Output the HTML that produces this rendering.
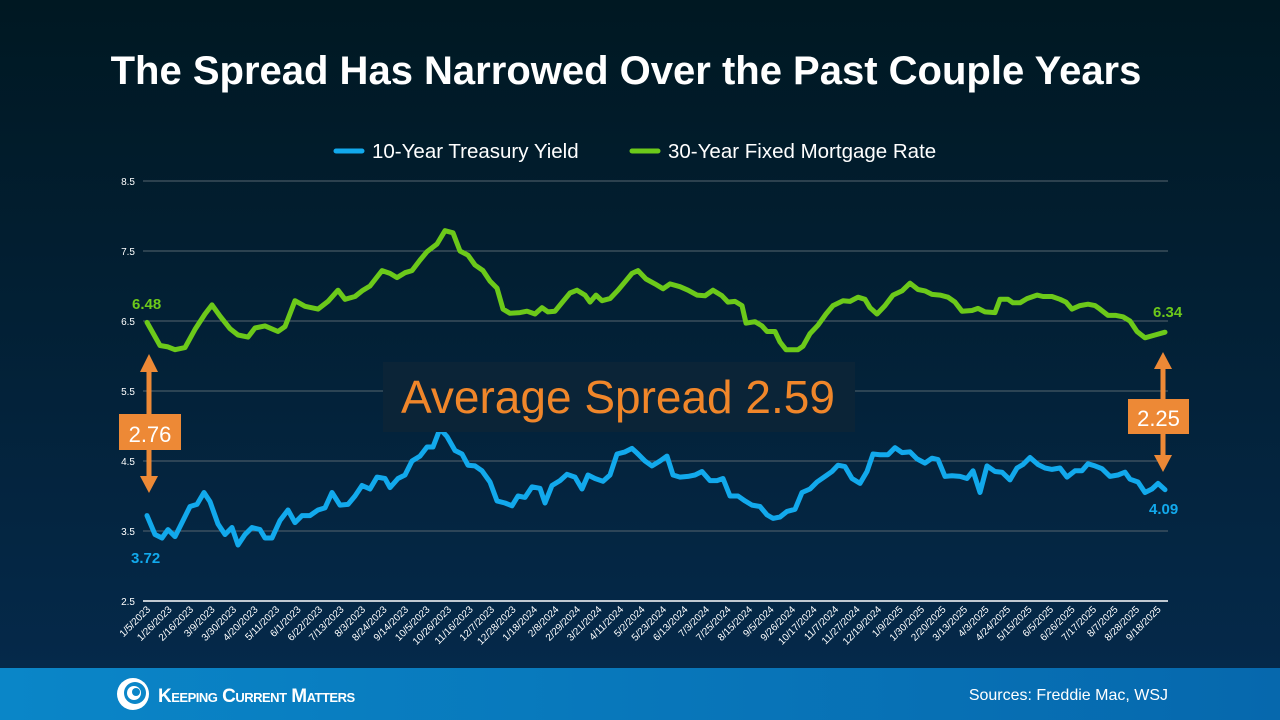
<!DOCTYPE html>
<html><head><meta charset="utf-8"><style>
html,body{margin:0;padding:0;width:1280px;height:720px;overflow:hidden;}
body{font-family:"Liberation Sans",sans-serif;}
</style></head><body>
<svg width="1280" height="720" viewBox="0 0 1280 720" xmlns="http://www.w3.org/2000/svg" font-family="Liberation Sans, sans-serif">
<defs>
<linearGradient id="bg" x1="0" y1="0" x2="0" y2="1">
<stop offset="0" stop-color="#001822"/><stop offset="1" stop-color="#05294a"/>
</linearGradient>
<linearGradient id="ft" x1="0" y1="0" x2="1" y2="0">
<stop offset="0" stop-color="#0a86c8"/><stop offset="1" stop-color="#0668ad"/>
</linearGradient>
</defs>
<rect width="1280" height="668" fill="url(#bg)"/>
<rect y="668" width="1280" height="52" fill="url(#ft)"/>
<text x="626" y="84" text-anchor="middle" fill="#fff" font-size="40" font-weight="bold">The Spread Has Narrowed Over the Past Couple Years</text>
<line x1="336" y1="151" x2="362" y2="151" stroke="#12a9ec" stroke-width="5" stroke-linecap="round"/>
<text x="372" y="158" fill="#fff" font-size="20.5">10-Year Treasury Yield</text>
<line x1="632" y1="151" x2="658" y2="151" stroke="#6cc91a" stroke-width="5" stroke-linecap="round"/>
<text x="668" y="158" fill="#fff" font-size="20.5">30-Year Fixed Mortgage Rate</text>
<g stroke="#56656f" stroke-width="1">
<line x1="143" y1="181" x2="1168" y2="181"/><line x1="143" y1="251" x2="1168" y2="251"/>
<line x1="143" y1="321" x2="1168" y2="321"/><line x1="143" y1="391" x2="1168" y2="391"/>
<line x1="143" y1="461" x2="1168" y2="461"/><line x1="143" y1="531" x2="1168" y2="531"/>
</g>
<line x1="143" y1="601" x2="1168" y2="601" stroke="#fff" stroke-width="1.5"/>
<g fill="#fff" font-size="10" text-anchor="end">
<text x="135" y="185">8.5</text><text x="135" y="255">7.5</text><text x="135" y="325">6.5</text>
<text x="135" y="395">5.5</text><text x="135" y="465">4.5</text><text x="135" y="535">3.5</text><text x="135" y="605">2.5</text>
</g>
<g transform="translate(0,776) scale(1,-70)" fill="none" stroke-linejoin="round" stroke-linecap="round">
<polyline vector-effect="non-scaling-stroke" stroke="#6cc91a" stroke-width="5" points="147,6.48 160,6.15 168,6.13 175,6.09 185,6.12 195,6.38 205,6.6 212,6.73 220,6.57 230,6.39 238,6.3 248,6.27 255,6.4 265,6.43 278,6.35 285,6.42 295,6.79 305,6.71 318,6.67 328,6.78 338,6.94 345,6.81 355,6.85 362,6.93 370,7.0 382,7.22 390,7.18 397,7.12 405,7.19 412,7.22 420,7.37 427,7.49 437,7.6 445,7.79 453,7.76 460,7.5 468,7.44 475,7.3 483,7.22 490,7.07 497,6.97 503,6.67 510,6.61 520,6.62 527,6.64 535,6.6 542,6.69 548,6.63 555,6.64 563,6.78 570,6.9 577,6.94 585,6.87 590,6.77 596,6.87 602,6.79 610,6.82 618,6.94 625,7.06 632,7.18 638,7.22 646,7.1 655,7.03 663,6.96 670,7.03 680,6.99 688,6.94 697,6.87 705,6.86 713,6.94 722,6.86 728,6.77 735,6.78 742,6.72 746,6.47 755,6.49 762,6.43 767,6.35 775,6.35 780,6.2 786,6.09 798,6.09 803,6.14 810,6.32 818,6.44 826,6.6 833,6.72 843,6.79 850,6.78 858,6.84 865,6.81 870,6.69 877,6.6 885,6.72 893,6.87 902,6.93 910,7.04 918,6.95 925,6.93 932,6.88 940,6.87 948,6.84 955,6.77 962,6.64 972,6.65 978,6.68 985,6.63 995,6.62 1000,6.81 1008,6.81 1013,6.76 1020,6.76 1027,6.82 1037,6.87 1043,6.85 1052,6.85 1060,6.81 1066,6.77 1072,6.67 1080,6.72 1088,6.74 1095,6.72 1100,6.67 1108,6.58 1116,6.58 1123,6.56 1130,6.5 1137,6.35 1145,6.26 1155,6.3 1165,6.34"/>
<polyline vector-effect="non-scaling-stroke" stroke="#12a9ec" stroke-width="5" points="147,3.72 155,3.45 162,3.4 168,3.52 175,3.42 182,3.62 190,3.85 197,3.88 204,4.05 210,3.92 218,3.6 225,3.45 232,3.55 238,3.3 245,3.45 252,3.55 260,3.52 265,3.4 272,3.4 280,3.65 288,3.8 295,3.62 302,3.72 310,3.72 318,3.8 325,3.83 332,4.05 340,3.87 348,3.88 355,4.0 362,4.15 370,4.1 377,4.27 385,4.25 390,4.12 398,4.25 405,4.3 412,4.5 420,4.57 427,4.7 433,4.7 440,4.96 447,4.85 455,4.65 462,4.6 468,4.44 475,4.43 482,4.36 490,4.2 497,3.93 505,3.9 512,3.86 518,4.0 525,3.98 532,4.13 540,4.11 545,3.9 552,4.15 560,4.22 567,4.31 575,4.27 582,4.1 588,4.3 595,4.25 603,4.21 610,4.3 617,4.6 625,4.63 632,4.68 638,4.6 645,4.5 652,4.43 660,4.5 667,4.57 673,4.3 680,4.27 688,4.28 695,4.3 702,4.35 710,4.22 717,4.22 723,4.25 730,4.0 738,4.0 745,3.93 752,3.87 760,3.85 767,3.73 773,3.68 780,3.7 787,3.78 795,3.81 802,4.05 810,4.1 817,4.2 825,4.28 832,4.35 838,4.44 845,4.42 852,4.25 860,4.18 867,4.35 873,4.6 880,4.59 888,4.59 895,4.69 902,4.62 910,4.63 917,4.53 925,4.47 932,4.54 938,4.52 945,4.28 952,4.29 960,4.28 967,4.25 973,4.36 980,4.05 987,4.43 995,4.35 1002,4.34 1010,4.23 1017,4.4 1023,4.45 1030,4.55 1038,4.45 1045,4.4 1052,4.38 1060,4.4 1067,4.27 1075,4.36 1082,4.36 1088,4.46 1095,4.43 1102,4.39 1110,4.28 1118,4.3 1125,4.34 1130,4.24 1138,4.2 1145,4.05 1152,4.1 1158,4.18 1165,4.09"/>
</g>
<g font-size="15" font-weight="bold">
<text x="132" y="309" fill="#6cc91a">6.48</text>
<text x="1153" y="317" fill="#6cc91a">6.34</text>
<text x="131" y="563" fill="#12a9ec">3.72</text>
<text x="1149" y="514" fill="#12a9ec">4.09</text>
</g>
<rect x="383" y="362" width="472" height="70" fill="#0b2437"/>
<text x="618" y="413" text-anchor="middle" fill="#f0862a" font-size="46">Average Spread 2.59</text>
<g fill="#ed8936">
<rect x="146.5" y="368" width="5" height="110"/>
<polygon points="149,354 140,372 158,372"/>
<polygon points="149,493 140,476 158,476"/>
<rect x="119" y="414" width="62" height="36"/>
<rect x="1160.5" y="366" width="5" height="92"/>
<polygon points="1163,352 1154,369 1172,369"/>
<polygon points="1163,472 1154,455 1172,455"/>
<rect x="1128" y="399" width="61" height="35"/>
</g>
<text x="150" y="442" text-anchor="middle" fill="#fff" font-size="22">2.76</text>
<text x="1158.5" y="426" text-anchor="middle" fill="#fff" font-size="22">2.25</text>
<g fill="#fff" font-size="10" text-anchor="end">
<text transform="translate(151,610) rotate(-45)">1/5/2023</text>
<text transform="translate(172.5,610) rotate(-45)">1/26/2023</text>
<text transform="translate(194,610) rotate(-45)">2/16/2023</text>
<text transform="translate(215.5,610) rotate(-45)">3/9/2023</text>
<text transform="translate(237,610) rotate(-45)">3/30/2023</text>
<text transform="translate(258.5,610) rotate(-45)">4/20/2023</text>
<text transform="translate(280,610) rotate(-45)">5/11/2023</text>
<text transform="translate(301.5,610) rotate(-45)">6/1/2023</text>
<text transform="translate(323,610) rotate(-45)">6/22/2023</text>
<text transform="translate(344.5,610) rotate(-45)">7/13/2023</text>
<text transform="translate(366,610) rotate(-45)">8/3/2023</text>
<text transform="translate(387.5,610) rotate(-45)">8/24/2023</text>
<text transform="translate(409,610) rotate(-45)">9/14/2023</text>
<text transform="translate(430.5,610) rotate(-45)">10/5/2023</text>
<text transform="translate(452,610) rotate(-45)">10/26/2023</text>
<text transform="translate(473.5,610) rotate(-45)">11/16/2023</text>
<text transform="translate(495,610) rotate(-45)">12/7/2023</text>
<text transform="translate(516.5,610) rotate(-45)">12/28/2023</text>
<text transform="translate(538,610) rotate(-45)">1/18/2024</text>
<text transform="translate(559.5,610) rotate(-45)">2/8/2024</text>
<text transform="translate(581,610) rotate(-45)">2/29/2024</text>
<text transform="translate(602.5,610) rotate(-45)">3/21/2024</text>
<text transform="translate(624,610) rotate(-45)">4/11/2024</text>
<text transform="translate(645.5,610) rotate(-45)">5/2/2024</text>
<text transform="translate(667,610) rotate(-45)">5/23/2024</text>
<text transform="translate(688.5,610) rotate(-45)">6/13/2024</text>
<text transform="translate(710,610) rotate(-45)">7/3/2024</text>
<text transform="translate(731.5,610) rotate(-45)">7/25/2024</text>
<text transform="translate(753,610) rotate(-45)">8/15/2024</text>
<text transform="translate(774.5,610) rotate(-45)">9/5/2024</text>
<text transform="translate(796,610) rotate(-45)">9/26/2024</text>
<text transform="translate(817.5,610) rotate(-45)">10/17/2024</text>
<text transform="translate(839,610) rotate(-45)">11/7/2024</text>
<text transform="translate(860.5,610) rotate(-45)">11/27/2024</text>
<text transform="translate(882,610) rotate(-45)">12/19/2024</text>
<text transform="translate(903.5,610) rotate(-45)">1/9/2025</text>
<text transform="translate(925,610) rotate(-45)">1/30/2025</text>
<text transform="translate(946.5,610) rotate(-45)">2/20/2025</text>
<text transform="translate(968,610) rotate(-45)">3/13/2025</text>
<text transform="translate(989.5,610) rotate(-45)">4/3/2025</text>
<text transform="translate(1011,610) rotate(-45)">4/24/2025</text>
<text transform="translate(1032.5,610) rotate(-45)">5/15/2025</text>
<text transform="translate(1054,610) rotate(-45)">6/5/2025</text>
<text transform="translate(1075.5,610) rotate(-45)">6/26/2025</text>
<text transform="translate(1097,610) rotate(-45)">7/17/2025</text>
<text transform="translate(1118.5,610) rotate(-45)">8/7/2025</text>
<text transform="translate(1140,610) rotate(-45)">8/28/2025</text>
<text transform="translate(1161.5,610) rotate(-45)">9/18/2025</text>
</g>
<circle cx="133" cy="694" r="16" fill="#fff"/>
<circle cx="135" cy="693" r="11" fill="#0a86c8"/>
<circle cx="134" cy="693" r="7" fill="#fff"/>
<circle cx="136" cy="692" r="4" fill="#0a86c8"/>
<text x="158" y="702" fill="#fff" font-size="19" font-weight="bold" style="font-variant:small-caps" letter-spacing="-0.5">Keeping Current Matters</text>
<text x="1168" y="700" text-anchor="end" fill="#fff" font-size="16">Sources: Freddie Mac, WSJ</text>
</svg>
</body></html>
